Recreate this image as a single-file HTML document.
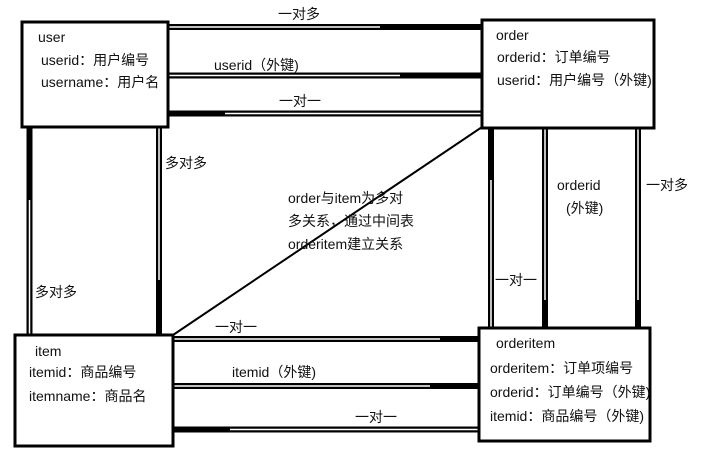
<!DOCTYPE html>
<html><head><meta charset="utf-8"><style>
body{margin:0;background:#fff;}
svg text{font-family:"Liberation Sans","Noto Sans CJK SC",sans-serif;font-size:14px;fill:#111;}
</style></head><body>
<svg width="702" height="468" xmlns="http://www.w3.org/2000/svg">
<g stroke="#000" stroke-width="6" fill="none">
<line x1="168" y1="27" x2="482" y2="27"/>
<line x1="168" y1="75.5" x2="482" y2="75.5"/>
<line x1="168" y1="113.5" x2="482" y2="113.5"/>
<line x1="29.5" y1="127" x2="29.5" y2="335"/>
<line x1="159" y1="127" x2="159" y2="335"/>
<line x1="491" y1="128" x2="491" y2="328"/>
<line x1="545" y1="128" x2="545" y2="328"/>
<line x1="638" y1="128" x2="638" y2="328"/>
<line x1="173" y1="339" x2="479" y2="339"/>
<line x1="173" y1="386" x2="479" y2="386"/>
<line x1="173" y1="429.5" x2="479" y2="429.5"/>
</g>
<g stroke="#fff" stroke-width="1.5" fill="none">
<line x1="168" y1="27" x2="380" y2="27"/>
<line x1="168" y1="75.5" x2="400" y2="75.5"/>
<line x1="225" y1="113.5" x2="482" y2="113.5"/>
<line x1="29.5" y1="200" x2="29.5" y2="335"/>
<line x1="159" y1="127" x2="159" y2="280"/>
<line x1="491" y1="180" x2="491" y2="328"/>
<line x1="545" y1="128" x2="545" y2="300"/>
<line x1="638" y1="128" x2="638" y2="300"/>
<line x1="173" y1="339" x2="440" y2="339"/>
<line x1="173" y1="386" x2="430" y2="386"/>
<line x1="230" y1="429.5" x2="479" y2="429.5"/>
</g>
<line x1="173" y1="335" x2="482" y2="127" stroke="#000" stroke-width="2"/>
<g stroke="#000" stroke-width="3" fill="#fff">
<rect x="22" y="22" width="146" height="105"/>
<rect x="482" y="20" width="172" height="108"/>
<rect x="15" y="335" width="158" height="111"/>
<rect x="479" y="328" width="171" height="113"/>
</g>
<text x="38" y="42">user</text>
<text x="41" y="65">userid：用户编号</text>
<text x="41" y="87">username：用户名</text>
<text x="496" y="40">order</text>
<text x="497" y="62">orderid：订单编号</text>
<text x="497" y="85">userid：用户编号（外键)</text>
<text x="35" y="356">item</text>
<text x="29" y="377">itemid：商品编号</text>
<text x="29" y="401">itemname：商品名</text>
<text x="496" y="348">orderitem</text>
<text x="490" y="373">orderitem：订单项编号</text>
<text x="490" y="397">orderid：订单编号（外键)</text>
<text x="490" y="421">itemid：商品编号（外键)</text>
<text x="278" y="19">一对多</text>
<text x="214" y="70">userid（外键)</text>
<text x="279" y="106">一对一</text>
<text x="165" y="168">多对多</text>
<text x="35" y="297">多对多</text>
<text x="288" y="203">order与item为多对</text>
<text x="288" y="226">多关系，通过中间表</text>
<text x="288" y="249">orderitem建立关系</text>
<text x="557" y="190">orderid</text>
<text x="566" y="213">(外键)</text>
<text x="646" y="190">一对多</text>
<text x="495" y="285">一对一</text>
<text x="215" y="332">一对一</text>
<text x="232" y="377">itemid（外键)</text>
<text x="355" y="422">一对一</text>
</svg>
</body></html>
